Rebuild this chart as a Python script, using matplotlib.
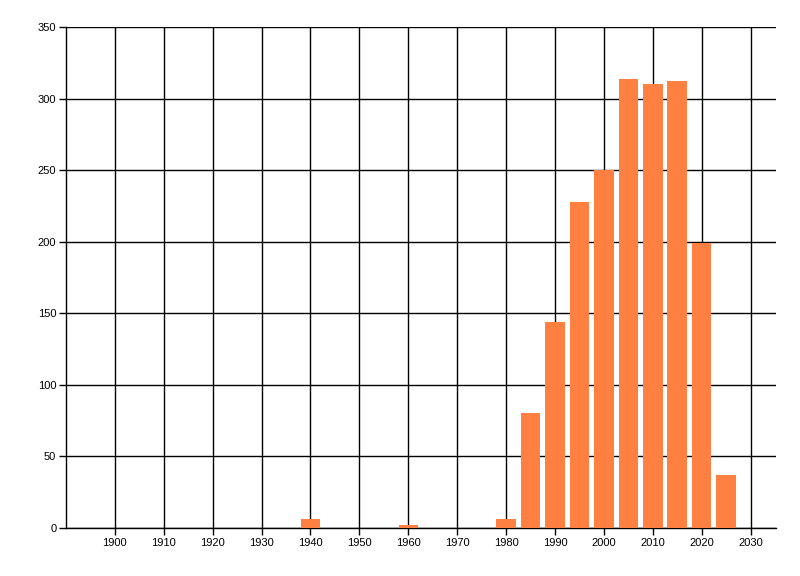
import matplotlib
matplotlib.use("Agg")
import matplotlib.pyplot as plt

years = [1940, 1960, 1980, 1985, 1990, 1995, 2000, 2005, 2010, 2015, 2020, 2025]
counts = [6, 2, 6, 80, 144, 228, 250, 314, 310, 312, 199, 37]
xticks = list(range(1900, 2031, 10))
yticks = list(range(0, 351, 50))

plt.rcParams['font.family'] = ['Liberation Sans', 'DejaVu Sans']

fig = plt.figure(figsize=(8, 5.76), dpi=100)
ax = fig.add_axes([66/800, 48/576, 710/800, 501/576])

ax.bar(years, counts, width=4, color='#ff8040', zorder=3)

ax.set_xlim(1890, 2035.2)
ax.set_ylim(0, 350)
ax.set_xticks(xticks)
ax.set_yticks(yticks)
ax.grid(True, color='black', linewidth=1)
ax.set_axisbelow(True)

for s in ['top', 'right']:
    ax.spines[s].set_visible(False)
ax.spines['left'].set_linewidth(1)
ax.spines['bottom'].set_linewidth(1)
ax.tick_params(axis='both', labelsize=8, width=1, length=5, pad=2, color='black')

fig.savefig('out.png', dpi=100)
